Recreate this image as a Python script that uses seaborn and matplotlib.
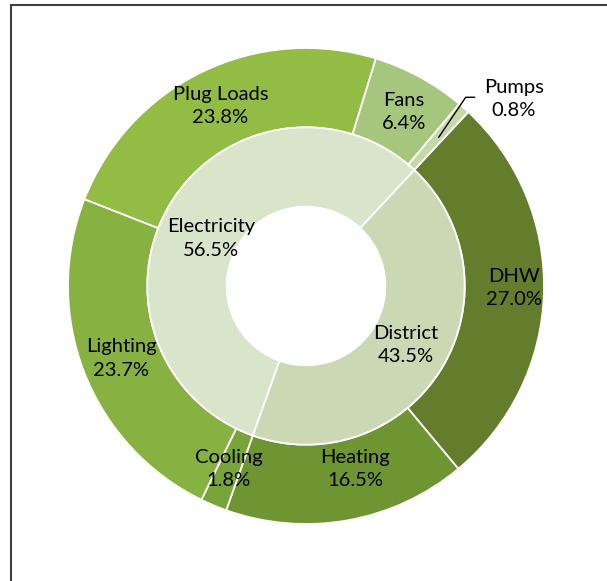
"""
Nested donut of annual energy use by end use and source.
"""

import matplotlib
matplotlib.use("Agg")
import matplotlib.pyplot as plt
from matplotlib.patches import Rectangle
import seaborn as sns

# outer ring: end uses, clockwise from the top-right
end_uses = ["DHW", "Heating", "Cooling", "Lighting", "Plug Loads", "Fans", "Pumps"]
end_use_share = [27.0, 16.5, 1.8, 23.7, 23.8, 6.4, 0.8]
end_use_colors = ["#637D2C", "#6F9533", "#78A43A", "#87B140", "#93BC45", "#A6C67D", "#C4D8A8"]

# inner ring: energy source
sources = ["District", "Electricity"]
source_share = [43.5, 56.5]
source_colors = ["#CAD9B4", "#D8E5CB"]

# label anchor points (axes data units, radius 1 = outer edge)
label_pos = {
    "DHW": (0.873, -0.008),
    "Heating": (0.207, -0.768),
    "Cooling": (-0.325, -0.768),
    "Lighting": (-0.776, -0.304),
    "Plug Loads": (-0.36, 0.755),
    "Fans": (0.41, 0.73),
    "Pumps": (0.873, 0.785),
    "District": (0.418, -0.249),
    "Electricity": (-0.40, 0.20),
}

sns.set_style("white")
plt.rcParams["font.family"] = ["Lato", "DejaVu Sans"]

fig = plt.figure(figsize=(6.07, 5.81), dpi=100)
ax = fig.add_axes([68 / 607, (581 - 524) / 581, 476 / 607, 476 / 581])

start = 47
wedge_style = dict(width=1 / 3, edgecolor="white", linewidth=1.3)
ax.pie(end_use_share, radius=1.0, colors=end_use_colors, startangle=start,
       counterclock=False, wedgeprops=wedge_style)
ax.pie(source_share, radius=2 / 3, colors=source_colors, startangle=start,
       counterclock=False, wedgeprops=wedge_style)

for name, val in list(zip(end_uses, end_use_share)) + list(zip(sources, source_share)):
    x, y = label_pos[name]
    ax.text(x, y, f"{name}\n{val:.1f}%", ha="center", va="center",
            fontsize=14.5, linespacing=1.45, color="black")

# leader line for the tiny Pumps slice
ax.plot([0.557, 0.671, 0.709], [0.624, 0.793, 0.793], color="black", lw=1)

ax.set_xlim(-1, 1)
ax.set_ylim(-1, 1)
ax.set_aspect("equal")
ax.axis("off")

# chart frame, cropped on the right and bottom
fig.add_artist(Rectangle((11 / 607, -0.2), 1.3, 1.2 - 5 / 581, transform=fig.transFigure,
                         fill=False, edgecolor="#3F3F3F", linewidth=1.5))

fig.savefig("out.png", dpi=100)
